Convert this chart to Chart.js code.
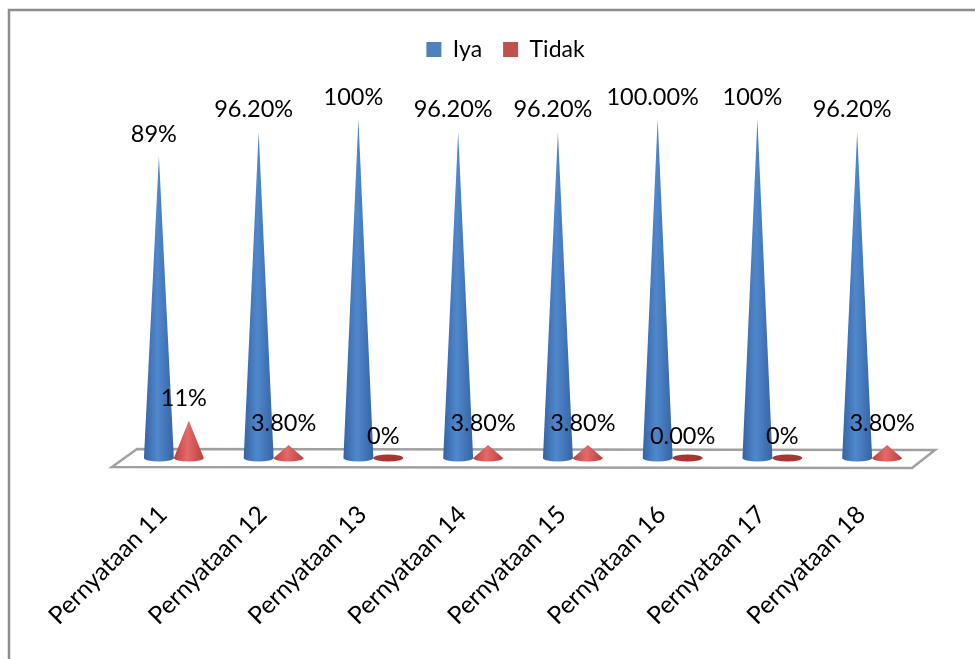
<!DOCTYPE html>
<html lang="en">
<head>
  <meta charset="UTF-8">
  <title>Pernyataan 11-18</title>
  <script src="https://cdn.jsdelivr.net/npm/chart.js"></script>
  <style>
    html, body { margin: 0; padding: 0; background: #fff; }
    #wrap { position: relative; width: 975px; height: 659px; overflow: hidden; }
  </style>
</head>
<body>

<div id="wrap"><canvas id="myChart" width="975" height="659"></canvas></div>

<script>
  const categories = ['Pernyataan 11', 'Pernyataan 12', 'Pernyataan 13', 'Pernyataan 14',
                      'Pernyataan 15', 'Pernyataan 16', 'Pernyataan 17', 'Pernyataan 18'];
  const iyaValues = [89, 96.2, 100, 96.2, 96.2, 100, 100, 96.2];
  const tidakValues = [11, 3.8, 0, 3.8, 3.8, 0, 0, 3.8];
  const iyaLabels = ['89%', '96.20%', '100%', '96.20%', '96.20%', '100.00%', '100%', '96.20%'];
  const tidakLabels = ['11%', '3.80%', '0%', '3.80%', '3.80%', '0.00%', '0%', '3.80%'];

  const FONT = 'Lato, "Open Sans", sans-serif';

  // edge / highlight colours for each series' cone
  const coneColors = [
    { edge: '#3564a4', light: '#5088cc', base: '#4a7cbb' },
    { edge: '#bb3f3b', light: '#e4696a', base: '#a83532' }
  ];

  function drawCone(ctx, bar, colors) {
    const rx = bar.width / 2;
    const ry = 3.5;
    const left = bar.x - rx;
    const grad = ctx.createLinearGradient(left, 0, left + bar.width, 0);
    grad.addColorStop(0, colors.edge);
    grad.addColorStop(0.45, colors.light);
    grad.addColorStop(1, colors.edge);

    ctx.save();
    if (bar.base - bar.y < 1) {
      // zero value: only the flat base is left
      ctx.fillStyle = colors.base;
      ctx.beginPath();
      ctx.ellipse(bar.x, bar.base, rx, ry, 0, 0, Math.PI * 2);
      ctx.fill();
    } else {
      ctx.fillStyle = grad;
      ctx.beginPath();
      ctx.moveTo(bar.x, bar.y);
      ctx.lineTo(left + bar.width, bar.base);
      ctx.ellipse(bar.x, bar.base, rx, ry, 0, 0, Math.PI);
      ctx.closePath();
      ctx.fill();
    }
    ctx.restore();
  }

  const conePlugin = {
    id: 'cones',
    beforeInit(chart) {
      // leave room between the legend and the tallest cone
      const fit = chart.legend.fit;
      chart.legend.fit = function () {
        fit.call(this);
        this.height += 48;
      };
    },
    beforeDraw(chart) {
      const { ctx, width, height } = chart;
      ctx.save();
      ctx.fillStyle = '#fff';
      ctx.fillRect(0, 0, width, height);
      // outer frame, runs off the right and bottom edges
      ctx.strokeStyle = '#8e8e8e';
      ctx.lineWidth = 2.5;
      ctx.beginPath();
      ctx.moveTo(9, height);
      ctx.lineTo(9, 10);
      ctx.lineTo(width, 10);
      ctx.stroke();
      ctx.restore();
    },
    beforeDatasetsDraw(chart) {
      // floor of the 3D plot
      const { ctx, chartArea: a } = chart;
      ctx.save();
      ctx.strokeStyle = '#a0a0a0';
      ctx.lineWidth = 2.5;
      ctx.beginPath();
      ctx.moveTo(a.left + 13, a.bottom - 9);
      ctx.lineTo(a.right + 13, a.bottom - 8);
      ctx.lineTo(a.right - 10, a.bottom + 10);
      ctx.lineTo(a.left - 12, a.bottom + 9);
      ctx.closePath();
      ctx.stroke();
      ctx.restore();
    },
    beforeDatasetDraw(chart, args) {
      const meta = args.meta;
      meta.data.forEach(bar => drawCone(chart.ctx, bar, coneColors[args.index]));
      return false;
    },
    afterDatasetsDraw(chart) {
      const ctx = chart.ctx;
      ctx.save();
      ctx.font = '23.5px ' + FONT;
      ctx.fillStyle = '#000';
      ctx.textAlign = 'center';
      ctx.textBaseline = 'middle';
      [iyaLabels, tidakLabels].forEach((labels, i) => {
        chart.getDatasetMeta(i).data.forEach((bar, j) => {
          ctx.fillText(labels[j], bar.x - 5, bar.y - 22);
        });
      });
      ctx.restore();
    }
  };

  const ctx = document.getElementById('myChart').getContext('2d');

  const myChart = new Chart(ctx, {
    type: 'bar',
    data: {
      labels: categories,
      datasets: [
        { label: 'Iya', data: iyaValues, backgroundColor: '#4f81bd' },
        { label: 'Tidak', data: tidakValues, backgroundColor: '#c0504d' }
      ]
    },
    plugins: [conePlugin],
    options: {
      responsive: false,
      animation: false,
      events: [],
      layout: { padding: { top: 17, left: 63, right: 27 } },
      datasets: { bar: { categoryPercentage: 0.6, barPercentage: 1 } },
      plugins: {
        tooltip: { enabled: false },
        legend: {
          position: 'top',
          labels: {
            font: { family: FONT, size: 23 },
            color: '#000',
            boxWidth: 15,
            boxHeight: 15,
            padding: 21
          }
        }
      },
      scales: {
        x: {
          grid: { display: false },
          border: { display: false },
          afterFit(scale) {
            scale.height = 201;
            scale.paddingLeft = 0;
            scale.paddingRight = 0;
          },
          ticks: {
            autoSkip: false,
            minRotation: 45,
            maxRotation: 45,
            padding: 34,
            labelOffset: -11,
            color: '#000',
            font: { family: FONT, size: 24.5 }
          }
        },
        // empty side axes keep the plot narrower than the centred legend's span
        y: {
          position: 'left',
          min: 0,
          max: 100,
          grid: { display: false },
          border: { display: false },
          ticks: { display: false },
          afterFit(scale) { scale.width = 61; }
        },
        side: {
          position: 'right',
          grid: { display: false },
          border: { display: false },
          ticks: { display: false },
          afterFit(scale) { scale.width = 26; }
        }
      }
    }
  });
</script>

</body>
</html>
